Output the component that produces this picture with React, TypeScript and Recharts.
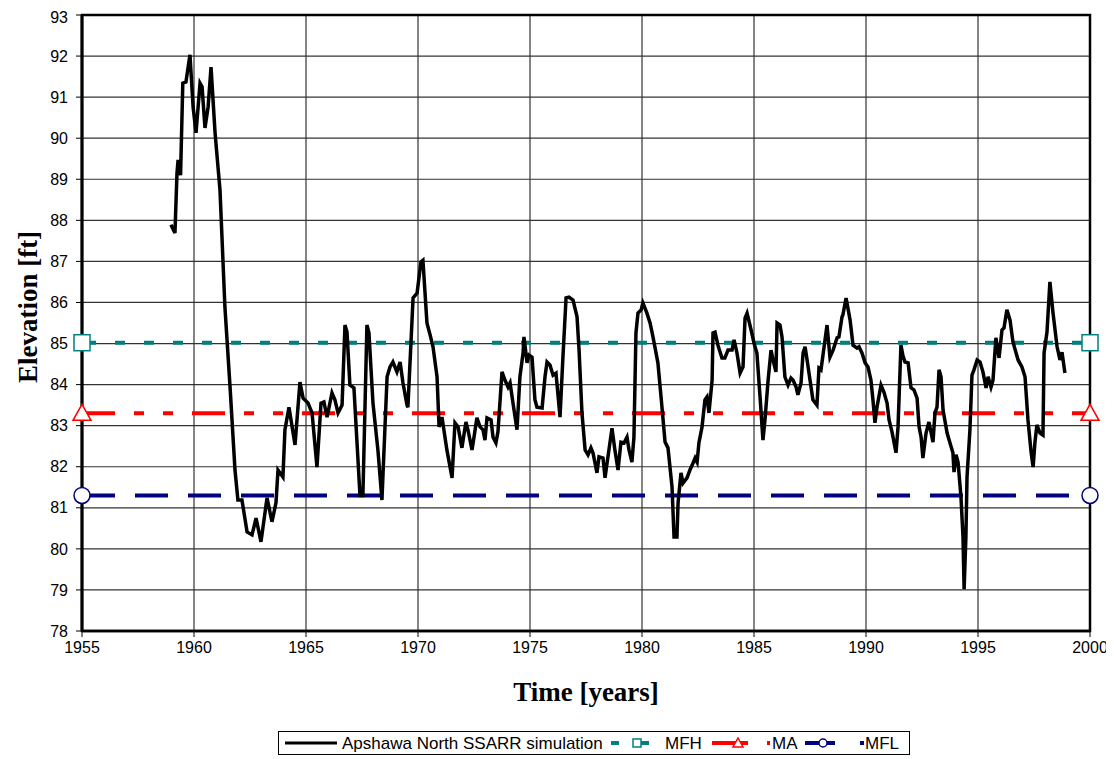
import { LineChart, Line, XAxis, YAxis, CartesianGrid, ReferenceArea } from "recharts";

const years = [
  1958.97, 1959.15, 1959.24, 1959.29, 1959.4, 1959.5, 1959.64, 1959.82, 1959.96, 1960.09,
  1960.27, 1960.36, 1960.49, 1960.63, 1960.76, 1960.94, 1961.16, 1961.38, 1961.61, 1961.83,
  1961.96, 1962.14, 1962.37, 1962.59, 1962.77, 1962.99, 1963.26, 1963.48, 1963.66, 1963.75,
  1963.97, 1964.06, 1964.24, 1964.51, 1964.73, 1964.87, 1965.09, 1965.27, 1965.49, 1965.67,
  1965.8, 1965.94, 1966.16, 1966.29, 1966.43, 1966.61, 1966.74, 1966.83, 1966.96, 1967.14,
  1967.41, 1967.54, 1967.72, 1967.81, 1967.99, 1968.21, 1968.39, 1968.62, 1968.75, 1968.88,
  1969.06, 1969.2, 1969.33, 1969.51, 1969.55, 1969.78, 1969.96, 1970.13, 1970.22, 1970.4,
  1970.54, 1970.67, 1970.85, 1970.94, 1971.07, 1971.29, 1971.52, 1971.65, 1971.79, 1971.96,
  1972.14, 1972.23, 1972.41, 1972.5, 1972.63, 1972.77, 1972.9, 1972.99, 1973.08, 1973.26,
  1973.35, 1973.48, 1973.57, 1973.75, 1973.88, 1974.02, 1974.11, 1974.24, 1974.42, 1974.55,
  1974.69, 1974.73, 1974.87, 1974.96, 1975.09, 1975.22, 1975.31, 1975.54, 1975.67, 1975.76,
  1975.89, 1976.03, 1976.16, 1976.34, 1976.47, 1976.61, 1976.74, 1976.92, 1977.1, 1977.19,
  1977.32, 1977.46, 1977.59, 1977.72, 1977.81, 1977.99, 1978.08, 1978.26, 1978.35, 1978.48,
  1978.66, 1978.79, 1978.93, 1979.06, 1979.2, 1979.33, 1979.42, 1979.55, 1979.64, 1979.73,
  1979.82, 1979.96, 1980.04, 1980.22, 1980.36, 1980.49, 1980.71, 1980.85, 1981.03, 1981.16,
  1981.34, 1981.43, 1981.56, 1981.61, 1981.74, 1981.83, 1982.01, 1982.14, 1982.28, 1982.37,
  1982.46, 1982.54, 1982.68, 1982.81, 1982.9, 1982.99, 1983.13, 1983.17, 1983.26, 1983.39,
  1983.57, 1983.7, 1983.84, 1984.02, 1984.11, 1984.24, 1984.38, 1984.51, 1984.6, 1984.69,
  1984.87, 1985.0, 1985.13, 1985.27, 1985.4, 1985.49, 1985.63, 1985.76, 1985.85, 1985.98,
  1986.03, 1986.16, 1986.25, 1986.38, 1986.52, 1986.65, 1986.74, 1986.88, 1986.96, 1987.1,
  1987.19, 1987.28, 1987.37, 1987.5, 1987.63, 1987.81, 1987.9, 1987.99, 1988.08, 1988.26,
  1988.39, 1988.53, 1988.71, 1988.79, 1988.93, 1988.97, 1989.11, 1989.15, 1989.29, 1989.42,
  1989.6, 1989.69, 1989.82, 1989.96, 1990.09, 1990.22, 1990.31, 1990.4, 1990.49, 1990.67,
  1990.8, 1990.94, 1991.03, 1991.16, 1991.34, 1991.43, 1991.56, 1991.65, 1991.74, 1991.88,
  1992.01, 1992.14, 1992.28, 1992.37, 1992.46, 1992.54, 1992.68, 1992.81, 1992.99, 1993.08,
  1993.17, 1993.26, 1993.35, 1993.44, 1993.62, 1993.75, 1993.88, 1993.93, 1994.02, 1994.11,
  1994.24, 1994.33, 1994.38, 1994.46, 1994.51, 1994.64, 1994.73, 1994.82, 1994.96, 1995.09,
  1995.22, 1995.36, 1995.45, 1995.58, 1995.67, 1995.8, 1995.94, 1996.07, 1996.16, 1996.29,
  1996.43, 1996.56, 1996.79, 1996.96, 1997.1, 1997.23, 1997.37, 1997.46, 1997.54, 1997.63,
  1997.77, 1997.9, 1997.95, 1998.08, 1998.21, 1998.35, 1998.53, 1998.66, 1998.75, 1998.88,
];

const elevations = [
  87.89, 87.69, 89.15, 89.47, 89.1, 91.34, 91.37, 92.03, 90.76, 90.13,
  91.34, 91.25, 90.25, 90.76, 91.73, 90.13, 88.74, 85.89, 83.94, 81.92,
  81.19, 81.19, 80.41, 80.34, 80.75, 80.17, 81.24, 80.66, 81.12, 81.92,
  81.75, 82.9, 83.45, 82.53, 84.06, 83.67, 83.55, 83.31, 81.99, 83.55,
  83.58, 83.21, 83.8, 83.63, 83.31, 83.5, 85.45, 85.28, 83.99, 83.92,
  81.3, 81.3, 85.45, 85.26, 83.55, 82.41, 81.19, 84.19, 84.43, 84.55,
  84.31, 84.55, 84.04, 83.5, 83.45, 86.11, 86.23, 86.99, 87.03, 85.5,
  85.21, 84.92, 84.19, 82.97, 83.21, 82.41, 81.73, 83.07, 82.97, 82.46,
  83.09, 82.9, 82.41, 82.72, 83.19, 82.97, 82.9, 82.65, 83.19, 83.14,
  82.72, 82.58, 82.85, 84.31, 84.11, 83.94, 84.04, 83.55, 82.9, 84.19,
  84.77, 85.16, 84.53, 84.72, 84.67, 83.63, 83.45, 83.43, 84.19, 84.55,
  84.48, 84.23, 84.28, 83.21, 84.67, 86.11, 86.13, 86.06, 85.65, 84.84,
  83.31, 82.41, 82.29, 82.46, 82.34, 81.85, 82.24, 82.21, 81.73, 82.24,
  82.94, 82.41, 81.92, 82.6, 82.58, 82.72, 82.41, 82.11, 82.72, 85.26,
  85.74, 85.82, 85.99, 85.74, 85.5, 85.16, 84.53, 83.7, 82.6, 82.46,
  81.51, 80.29, 80.29, 81.12, 81.85, 81.6, 81.73, 81.92, 82.09, 82.21,
  82.11, 82.58, 82.97, 83.63, 83.7, 83.31, 84.11, 85.26, 85.28, 84.96,
  84.65, 84.65, 84.84, 84.84, 85.09, 84.77, 84.28, 84.43, 85.62, 85.74,
  85.33, 85.01, 84.77, 83.7, 82.65, 83.14, 84.11, 84.84, 84.6, 84.31,
  85.5, 85.45, 85.16, 84.19, 83.99, 84.16, 84.11, 83.94, 83.75, 84.04,
  84.77, 84.92, 84.6, 84.11, 83.63, 83.5, 84.4, 84.36, 84.72, 85.45,
  84.67, 84.84, 85.14, 85.16, 85.65, 85.7, 86.11, 85.99, 85.57, 84.96,
  84.89, 84.92, 84.77, 84.53, 84.43, 84.11, 83.63, 83.07, 83.45, 83.99,
  83.82, 83.55, 83.14, 82.85, 82.34, 82.97, 84.96, 84.7, 84.55, 84.53,
  83.92, 83.87, 83.67, 82.97, 82.72, 82.21, 82.82, 83.09, 82.6, 83.31,
  83.45, 84.36, 84.19, 83.38, 82.82, 82.58, 82.34, 81.87, 82.29, 82.11,
  81.26, 80.29, 79.02, 80.29, 81.75, 82.9, 84.23, 84.36, 84.6, 84.55,
  84.31, 83.92, 84.19, 83.94, 84.11, 85.14, 84.65, 85.33, 85.38, 85.82,
  85.57, 85.04, 84.6, 84.43, 84.19, 83.14, 82.36, 81.99, 82.58, 83.02,
  82.82, 82.77, 84.77, 85.28, 86.5, 85.74, 84.92, 84.6, 84.79, 84.28,
];

const xTicks = [1955, 1960, 1965, 1970, 1975, 1980, 1985, 1990, 1995, 2000];
const yTicks = [78, 79, 80, 81, 82, 83, 84, 85, 86, 87, 88, 89, 90, 91, 92, 93];

const levelNames = ["MFH", "MA", "MFL"];
const levelValues = [85.02, 83.3, 81.3];
const levelSpan = [1955, 2000];

const simulation = years.map((x, i) => ({ x, y: elevations[i] }));
const levelData = (v: number) => levelSpan.map((x) => ({ x, y: v }));

const TEAL = "#008080";
const RED = "#ff0000";
const NAVY = "#000080";

const SquareDot = ({ cx, cy }: any) => (
  <rect x={cx - 8} y={cy - 8} width={16} height={16} fill="#fff" stroke={TEAL} strokeWidth={1.5} />
);
const TriangleDot = ({ cx, cy }: any) => (
  <path d={`M${cx},${cy - 9} L${cx + 9},${cy + 7} L${cx - 9},${cy + 7} Z`} fill="#fff" stroke={RED} strokeWidth={1.5} />
);
const CircleDot = ({ cx, cy }: any) => (
  <circle cx={cx} cy={cy} r={8} fill="#fff" stroke={NAVY} strokeWidth={1.5} />
);

function YLabel({ viewBox }: any) {
  const x = viewBox.x + 20;
  const y = viewBox.y + viewBox.height / 2 - 16;
  return (
    <text x={x} y={y} transform={`rotate(-90 ${x} ${y})`} textAnchor="middle" dominantBaseline="central"
      fontFamily="Liberation Serif" fontWeight="bold" fontSize={27} fill="#000">
      Elevation [ft]
    </text>
  );
}

function Legend() {
  const font = { fontFamily: "Liberation Sans", fontSize: 17, fill: "#000" };
  return (
    <svg width={630} height={22} style={{ position: "absolute", left: 270, top: 723, border: "1px solid #000", background: "#fff" }}>
      <line x1={6} x2={58} y1={11} y2={11} stroke="#000" strokeWidth={3} />
      <text x={63} y={17} {...font}>Apshawa North SSARR simulation</text>
      <rect x={332} y={9} width={8} height={4} fill={TEAL} />
      <line x1={358} x2={370} y1={11} y2={11} stroke={TEAL} strokeWidth={4} />
      <rect x={354} y={7} width={8} height={8} fill="#fff" stroke={TEAL} strokeWidth={1.5} />
      <text x={386} y={17} {...font}>{levelNames[0]}</text>
      <line x1={433} x2={469} y1={11} y2={11} stroke={RED} strokeWidth={4} />
      <path d="M459,6 L464,15 L454,15 Z" fill="#fff" stroke={RED} strokeWidth={1.5} />
      <rect x={488} y={9} width={3} height={4} fill={RED} />
      <text x={493} y={17} {...font}>{levelNames[1]}</text>
      <line x1={526} x2={556} y1={11} y2={11} stroke={NAVY} strokeWidth={4} />
      <circle cx={544} cy={11} r={4} fill="#fff" stroke={NAVY} strokeWidth={1.5} />
      <rect x={581} y={9} width={4} height={4} fill={NAVY} />
      <text x={586} y={17} {...font}>{levelNames[2]}</text>
    </svg>
  );
}

export default function App() {
  const tick = { fontFamily: "Liberation Sans", fontSize: 16, fill: "#000" };
  return (
    <div style={{ position: "relative", width: 1100, height: 751 }}>
      <LineChart width={1100} height={710} margin={{ top: 7, right: 18, left: 0, bottom: 7 }}>
        <CartesianGrid stroke="#333" strokeWidth={1.2} />
        <XAxis
          type="number"
          dataKey="x"
          domain={[1955, 2000]}
          ticks={xTicks}
          tick={tick}
          tickMargin={5}
          tickLine={{ stroke: "#000" }}
          axisLine={{ stroke: "#000", strokeWidth: 2.5 }}
          height={80}
          allowDuplicatedCategory={false}
          label={{ value: "Time [years]", position: "insideBottom", offset: 10, fontFamily: "Liberation Serif", fontWeight: "bold", fontSize: 27, fill: "#000" }}
        />
        <YAxis
          type="number"
          domain={[78, 93]}
          ticks={yTicks}
          tick={tick}
          tickMargin={8}
          tickLine={{ stroke: "#000" }}
          axisLine={{ stroke: "#000", strokeWidth: 3 }}
          width={74}
          label={<YLabel />}
        />
        <Line data={levelData(levelValues[2])} dataKey="y" stroke={NAVY} strokeWidth={4} strokeDasharray="33 20"
          dot={<CircleDot />} isAnimationActive={false} />
        <Line data={levelData(levelValues[1])} dataKey="y" stroke={RED} strokeWidth={4} strokeDasharray="33 19 10 19 10 19"
          dot={<TriangleDot />} isAnimationActive={false} />
        <Line data={levelData(levelValues[0])} dataKey="y" stroke={TEAL} strokeWidth={4} strokeDasharray="10 19" strokeDashoffset={-4}
          dot={<SquareDot />} isAnimationActive={false} />
        <Line data={simulation} dataKey="y" stroke="#000" strokeWidth={3.5} dot={false} isAnimationActive={false} />
        <ReferenceArea x1={1955} x2={2000} y1={78} y2={93} fill="none" stroke="#000" strokeWidth={2.5} />
      </LineChart>
      <Legend />
    </div>
  );
}
